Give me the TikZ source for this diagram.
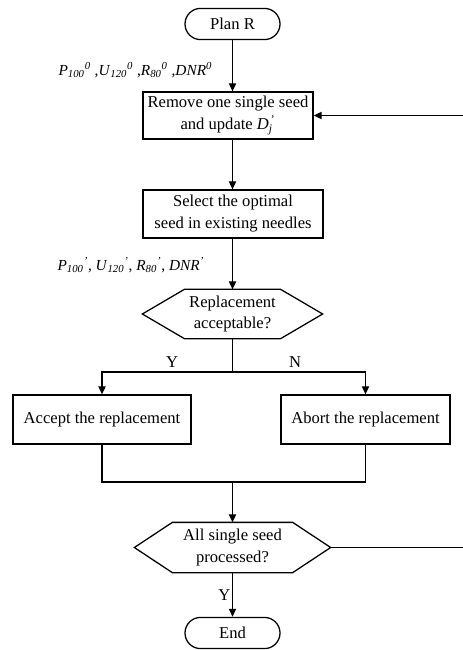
\documentclass[tikz,border=0pt]{standalone}
\usepackage{fontspec}
\setmainfont{Liberation Serif}
\usetikzlibrary{arrows.meta}
% italic symbol with subscript and superscript
\newcommand{\pv}[3]{\textit{#1}\textsubscript{\textit{#2}}\textsuperscript{\textit{#3}}}

\begin{document}
\begin{tikzpicture}[x=0.025cm,y=-0.025cm,line width=0.9pt,
  font=\fontsize{11.8}{15.6}\selectfont,
  box/.style={draw,align=center,inner sep=0pt},
  term/.style={draw,rounded corners=0.39cm,minimum width=2.375cm,minimum height=0.78cm},
  hexa/.style={align=center,inner sep=0pt},
  param/.style={anchor=west,inner sep=0pt,font=\fontsize{10.9}{14}\selectfont},
  flow/.style={-{Triangle[length=2mm,width=1.8mm]}}]
  \useasboundingbox (0,0) rectangle (462,650);

  % Start and end
  \node[term] (planR) at (232.5,24) {Plan R};
  \node[term] (finish) at (232.5,633) {End};

  % Process boxes
  \node[box,minimum width=4.25cm,minimum height=1.175cm] (remove) at (228,115.5)
    {Remove one single seed\\and update \textit{D}\rlap{\textsubscript{\textit{j}}}\textsuperscript{\,'}};
  \node[box,minimum width=4.5cm,minimum height=1.2cm] (select) at (233,214)
    {Select the optimal\\seed in existing needles};
  \node[box,minimum width=4.45cm,minimum height=1.225cm] (accept) at (102,419.5)
    {Accept the replacement};
  \node[box,minimum width=4.225cm,minimum height=1.225cm] (abort) at (365.5,419.5)
    {Abort the replacement};

  % Decisions (hexagons drawn round the nodes)
  \node[hexa,minimum width=4.475cm,minimum height=1.2cm] (replace) at (232.5,314)
    {Replacement\\acceptable?};
  \draw (replace.west) -- ([xshift=1.05cm]replace.north west) -- ([xshift=-1.05cm]replace.north east)
    -- (replace.east) -- ([xshift=-1.05cm]replace.south east) -- ([xshift=1.05cm]replace.south west) -- cycle;
  \node[hexa,minimum width=4.875cm,minimum height=1.225cm] (allseed) at (232.5,547.5)
    {All single seed\\processed?};
  \draw (allseed.west) -- ([xshift=0.95cm]allseed.north west) -- ([xshift=-0.95cm]allseed.north east)
    -- (allseed.east) -- ([xshift=-0.95cm]allseed.south east) -- ([xshift=0.95cm]allseed.south west) -- cycle;

  % Parameter labels
  \node[param] (par0) at (58,70)
    {\pv{P}{100}{0} ,\pv{U}{120}{0} ,\pv{R}{80}{0} ,\textit{DNR}\textsuperscript{\textit{0}}};
  \node[param] (par1) at (57,265)
    {\pv{P}{100}{'}, \pv{U}{120}{'}, \pv{R}{80}{'}, \textit{DNR}\textsuperscript{\textit{'}}};

  % Main flow
  \draw[flow] (planR.south) -- (planR.south -| 232.5,0) -- (232.5,0 |- remove.north);
  \draw[flow] (232.5,0 |- remove.south) -- (select.north -| 232.5,0);
  \draw[flow] (select.south -| 232.5,0) -- (replace.north);

  % Branches
  \coordinate (split) at (232.5,372);
  \draw (replace.south) -- (split);
  \draw[flow] (split) -| (accept.north);
  \draw[flow] (split) -| (abort.north);
  \node (yes) at (172,362) {Y};
  \node (no) at (295,362) {N};

  % Merge
  \coordinate (merge) at (232.5,482);
  \draw (accept.south) |- (merge) -| (abort.south);
  \draw[flow] (merge) -- (allseed.north);

  % Loop back and exit
  \coordinate (back) at (480,547.5);
  \draw[flow] (allseed.east) -- (back) |- (remove.east);
  \draw[flow] (allseed.south) -- node[left,inner sep=1pt] (yes2) {Y} (finish.north);

\end{tikzpicture}
\end{document}
